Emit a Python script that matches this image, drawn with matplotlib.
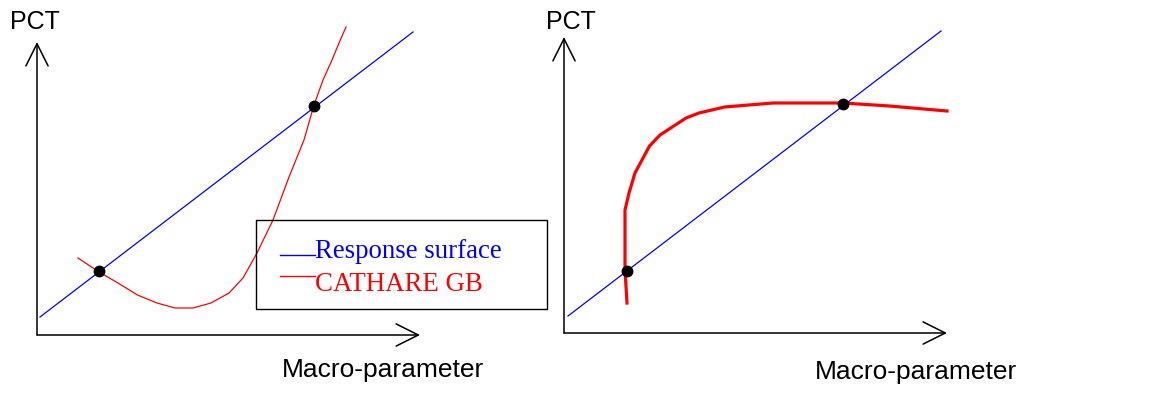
import matplotlib.pyplot as plt
from matplotlib.patches import Rectangle

W, H, DPI = 1149, 394, 100

# --- left panel: response surface vs CATHARE curve (schematic units) ---
left_rs_x = [3, 376]
left_rs_y = [18, 303]
left_cat_x = [41, 62, 81, 100.5, 120, 138, 156, 174, 192, 206, 220, 236, 252, 267, 277, 286, 295, 302, 309]
left_cat_y = [77, 63, 52, 40, 32, 27, 27, 32, 42, 57, 82, 115, 158, 195, 230, 255, 275, 292, 308]
left_dots_x = [62, 277]
left_dots_y = [64, 229]

# --- right panel ---
right_rs_x = [4, 377]
right_rs_y = [17, 302]
right_cat_x = [63, 61, 61, 61, 65, 71, 85.5, 96, 122, 135, 160.5, 209, 279, 325.5, 383]
right_cat_y = [30, 63, 96, 123, 140, 160, 187, 198, 215, 220, 226, 230, 230, 227, 222]
right_dots_x = [63, 279]
right_dots_y = [62, 229]

axis_label_x = "Macro-parameter"
axis_label_y = "PCT"
legend_labels = ["Response surface", "CATHARE GB"]


def px_box(left, top, right, bottom):
    # pixel box (y from top) -> figure fraction rect
    return [left / W, 1 - bottom / H, (right - left) / W, (bottom - top) / H]


fig = plt.figure(figsize=(W / DPI, H / DPI), dpi=DPI)


def draw_panel(rect, rs_x, rs_y, cat_x, cat_y, dots_x, dots_y, red_lw):
    ax = fig.add_axes(rect)
    w = rect[2] * W
    h = rect[3] * H
    ax.set_xlim(0, w)
    ax.set_ylim(0, h)
    ax.axis('off')
    arrow = dict(arrowstyle='->,head_length=0.8,head_width=0.4', color='black',
                 lw=1.1, mutation_scale=20, shrinkA=0, shrinkB=0)
    ax.annotate('', xy=(w, 0), xytext=(0, 0), arrowprops=arrow, annotation_clip=False)
    ax.annotate('', xy=(0, h), xytext=(0, 0), arrowprops=arrow, annotation_clip=False)
    ax.plot(rs_x, rs_y, color='blue', lw=0.9, clip_on=False)
    ax.plot(cat_x, cat_y, color='red', lw=red_lw, clip_on=False)
    ax.plot(dots_x, dots_y, 'o', color='black', ms=7.5, clip_on=False, zorder=3)
    return ax


draw_panel(px_box(37, 42, 420, 335), left_rs_x, left_rs_y, left_cat_x, left_cat_y,
           left_dots_x, left_dots_y, 0.9)
draw_panel(px_box(564, 37, 947, 333), right_rs_x, right_rs_y, right_cat_x, right_cat_y,
           right_dots_x, right_dots_y, 2.3)

# overlay in pixel coordinates for labels and the legend box
ov = fig.add_axes([0, 0, 1, 1])
ov.set_xlim(0, W)
ov.set_ylim(H, 0)
ov.axis('off')

sans = dict(family='Liberation Sans', color='black', ha='center', va='center')
ov.text(35, 22, axis_label_y, fontsize=18, **sans)
ov.text(571, 22, axis_label_y, fontsize=18, **sans)
ov.text(383, 370, axis_label_x, fontsize=19, **sans)
ov.text(916, 372, axis_label_x, fontsize=19, **sans)

ov.add_patch(Rectangle((256, 220), 291, 89, fill=False, edgecolor='black', lw=1.0))
for lab, col, yl, yt in zip(legend_labels, ['blue', 'red'], [255, 276], [258, 291]):
    ov.plot([280, 315], [yl, yl], color=col, lw=1.0)
    ov.text(315, yt, lab, family='Liberation Serif', fontsize=19.4, color=col,
            ha='left', va='baseline')

fig.savefig('out.png', dpi=DPI)
